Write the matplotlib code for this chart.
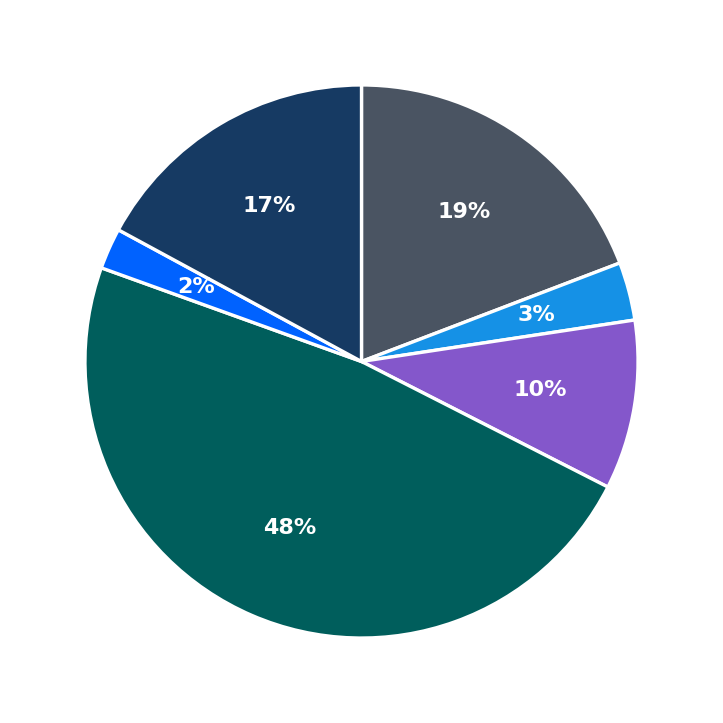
import matplotlib.pyplot as plt

labels = ['A', 'B', 'C', 'D', 'E', 'F']
values = [19.2, 3.4, 9.9, 48.0, 2.4, 17.1]
colors = ['#4a5462', '#1591e6', '#8457cb', '#005e5c', '#0062ff', '#163a63']

fig = plt.figure(figsize=(7.23, 7.23), dpi=100)
ax = fig.add_axes([0.5 - 0.3825, 0.5 - 0.3825, 0.765, 0.765])

wedges, texts, autotexts = ax.pie(
    values, colors=colors, startangle=90, counterclock=False,
    autopct='%1.0f%%', pctdistance=0.655, radius=1,
    wedgeprops=dict(edgecolor='white', linewidth=2.4),
    textprops=dict(color='white', fontsize=16, fontweight='bold'))

ax.set_xlim(-1, 1)
ax.set_ylim(-1, 1)
ax.set_aspect('equal')

fig.savefig('out.png', dpi=100, facecolor='white')
